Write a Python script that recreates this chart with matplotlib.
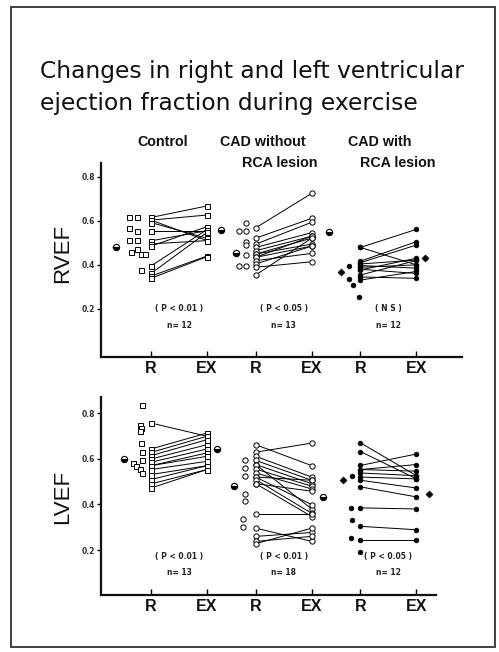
import matplotlib
matplotlib.use("Agg")
import matplotlib.pyplot as plt
from matplotlib.patches import Rectangle

# ---------------- data (ejection fraction values) ----------------
groups = ["Control", "CAD without\nRCA lesion", "CAD with\nRCA lesion"]
xlabels = ["R", "EX"]

# RVEF
rv_ctrl_cloud = [0.618, 0.615, 0.565, 0.555, 0.512, 0.512, 0.46, 0.47, 0.449, 0.448, 0.376]
rv_ctrl_rest = [0.615, 0.603, 0.603, 0.592, 0.553, 0.509, 0.495, 0.485, 0.395, 0.361, 0.349, 0.339]
rv_ctrl_ex = [0.667, 0.626, 0.51, 0.52, 0.553, 0.555, 0.51, 0.573, 0.56, 0.547, 0.44, 0.437]
rv_ctrl_mean = [0.479, 0.558]

rv_cad_cloud = [0.591, 0.553, 0.553, 0.505, 0.49, 0.444, 0.395, 0.395]
rv_cad_rest = [0.568, 0.521, 0.494, 0.479, 0.464, 0.449, 0.449, 0.434, 0.434, 0.419, 0.404, 0.389, 0.354]
rv_cad_ex = [0.724, 0.611, 0.593, 0.546, 0.53, 0.521, 0.494, 0.485, 0.53, 0.452, 0.485, 0.414, 0.521]
rv_cad_mean = [0.452, 0.55]

rv_rca_cloud = [0.395, 0.338, 0.308, 0.255]
rv_rca_rest = [0.479, 0.479, 0.417, 0.41, 0.404, 0.397, 0.389, 0.38, 0.377, 0.354, 0.345, 0.331]
rv_rca_ex = [0.561, 0.40, 0.505, 0.49, 0.422, 0.385, 0.40, 0.361, 0.43, 0.42, 0.339, 0.37]
rv_rca_mean = [0.367, 0.432]

# LVEF
lv_ctrl_cloud = [0.838, 0.75, 0.735, 0.721, 0.67, 0.63, 0.594, 0.58, 0.567, 0.557, 0.538]
lv_ctrl_rest = [0.757, 0.643, 0.628, 0.614, 0.599, 0.585, 0.57, 0.57, 0.553, 0.531, 0.509, 0.49, 0.472]
lv_ctrl_ex = [0.699, 0.713, 0.699, 0.684, 0.662, 0.643, 0.626, 0.611, 0.589, 0.57, 0.57, 0.553, 0.553]
lv_ctrl_mean = [0.599, 0.643]

lv_cad_cloud = [0.593, 0.56, 0.526, 0.447, 0.414, 0.336, 0.30]
lv_cad_rest = [0.662, 0.629, 0.611, 0.593, 0.575, 0.575, 0.555, 0.538, 0.52, 0.52, 0.509, 0.491, 0.491,
               0.36, 0.296, 0.26, 0.238, 0.228]
lv_cad_ex = [0.57, 0.669, 0.52, 0.506, 0.491, 0.38, 0.48, 0.468, 0.399, 0.506, 0.361, 0.458, 0.347,
             0.36, 0.238, 0.277, 0.26, 0.296]
lv_cad_mean = [0.48, 0.433]

lv_rca_cloud = [0.523, 0.385, 0.333, 0.253, 0.19]
lv_rca_rest = [0.67, 0.632, 0.571, 0.553, 0.553, 0.538, 0.52, 0.506, 0.477, 0.385, 0.304, 0.246]
lv_rca_ex = [0.526, 0.512, 0.621, 0.575, 0.546, 0.526, 0.512, 0.472, 0.433, 0.38, 0.289, 0.246]
lv_rca_mean = [0.506, 0.447]

rv_stats = ["( P < 0.01 )", "( P < 0.05 )", "( N S )"]
rv_n = ["n= 12", "n= 13", "n= 12"]
lv_stats = ["( P < 0.01 )", "( P < 0.01 )", "( P < 0.05 )"]
lv_n = ["n= 13", "n= 18", "n= 12"]
yticks = [0.2, 0.4, 0.6, 0.8]

# ---------------- layout (not data) ----------------
rv_cloud_off = [
    [-0.39, -0.25, -0.39, -0.25, -0.39, -0.25, -0.36, -0.25, -0.18, -0.11, -0.18],
    [-0.18, -0.30, -0.18, -0.18, -0.18, -0.18, -0.30, -0.18],
    [-0.20, -0.21, -0.14, -0.02],
]
lv_cloud_off = [
    [-0.16, -0.19, -0.18, -0.19, -0.18, -0.16, -0.16, -0.33, -0.26, -0.19, -0.16],
    [-0.20, -0.20, -0.20, -0.20, -0.20, -0.22, -0.22],
    [-0.15, -0.16, -0.15, -0.16, -0.01],
]
rv_mean_off = [(-0.62, 0.25), (-0.36, 0.30), (-0.34, 0.16)]
lv_mean_off = [(-0.49, 0.17), (-0.39, 0.21), (-0.31, 0.22)]
group_step = 1.87
styles = [dict(marker="s", mfc="white", mec="black", ms=3.6, mew=0.7),
          dict(marker="o", mfc="white", mec="black", ms=3.8, mew=0.7),
          dict(marker="o", mfc="black", mec="black", ms=3.4, mew=0.5)]

W, H = 499, 652
fig = plt.figure(figsize=(W / 100, H / 100), dpi=100)
fig.patch.set_facecolor("white")

def fx(px):
    return px / W

def fy(py):
    return 1 - py / H

# outer frame
fig.patches.append(Rectangle((fx(11), fy(647)), fx(495) - fx(11), fy(7) - fy(647),
                             transform=fig.transFigure, fill=False, lw=1.3, ec="#333333"))

# title
fig.text(fx(40), fy(78), "Changes in right and left ventricular", fontsize=16.8,
         family="DejaVu Sans", va="baseline", ha="left", color="#111111")
fig.text(fx(40), fy(110), "ejection fraction during exercise", fontsize=16.8,
         family="DejaVu Sans", va="baseline", ha="left", color="#111111")

# column headings (text lines with their left pixel x and baseline y)
head_lines = [("Control", 137, 146), ("CAD without", 220, 146), ("RCA lesion", 242, 167),
              ("CAD with", 348, 146), ("RCA lesion", 360, 167)]
for ln, x0, y0 in head_lines:
    fig.text(fx(x0), fy(y0), ln, fontsize=10.3, family="Liberation Sans",
             weight="bold", va="baseline", ha="left", color="#111111")

panels = [
    dict(rect=(101, 163, 462, 357), ylim=(-0.018, 0.862), xright=5.554, label="RVEF", lab_y=253,
         data=[(rv_ctrl_cloud, rv_ctrl_rest, rv_ctrl_ex, rv_ctrl_mean),
               (rv_cad_cloud, rv_cad_rest, rv_cad_ex, rv_cad_mean),
               (rv_rca_cloud, rv_rca_rest, rv_rca_ex, rv_rca_mean)],
         cloud_off=rv_cloud_off, mean_off=rv_mean_off, stats=rv_stats, n=rv_n,
         stat_y=(0.20, 0.127)),
    dict(rect=(101, 397, 436, 595), ylim=(0.003, 0.871), xright=5.089, label="LVEF", lab_y=497,
         data=[(lv_ctrl_cloud, lv_ctrl_rest, lv_ctrl_ex, lv_ctrl_mean),
               (lv_cad_cloud, lv_cad_rest, lv_cad_ex, lv_cad_mean),
               (lv_rca_cloud, lv_rca_rest, lv_rca_ex, lv_rca_mean)],
         cloud_off=lv_cloud_off, mean_off=lv_mean_off, stats=lv_stats, n=lv_n,
         stat_y=(0.17, 0.10)),
]

for p in panels:
    l, t, r, b = p["rect"]
    ax = fig.add_axes([fx(l), fy(b), fx(r) - fx(l), fy(t) - fy(b)])
    ax.set_facecolor("none")
    ax.set_ylim(*p["ylim"])
    ax.set_xlim(-0.893, p["xright"])
    for s in ["top", "right"]:
        ax.spines[s].set_visible(False)
    for s in ["left", "bottom"]:
        ax.spines[s].set_linewidth(1.6)
        ax.spines[s].set_color("#111111")

    xt = []
    for g, (cloud, rest, ex, mean) in enumerate(p["data"]):
        xr = g * group_step
        xe = xr + 1.0
        xt += [xr, xe]
        st = styles[g]
        for a, bb in zip(rest, ex):
            ax.plot([xr, xe], [a, bb], color="black", lw=0.7, zorder=2)
        ax.plot([xr] * len(rest), rest, ls="none", zorder=3, **st)
        ax.plot([xe] * len(ex), ex, ls="none", zorder=3, **st)
        ax.plot([xr + o for o in p["cloud_off"][g]], cloud, ls="none", zorder=3, **st)
        mo = p["mean_off"][g]
        if g < 2:
            mst = dict(marker="o", fillstyle="bottom", mfc="black", mfcalt="white",
                       mec="black", ms=4.5, mew=0.8)
        else:
            mst = dict(marker="D", mfc="black", mec="black", ms=3.5, mew=0.5)
        ax.plot([xr + mo[0], xe + mo[1]], mean, ls="none", zorder=3, **mst)
        cx = (xr + xe) / 2
        ax.text(cx, p["stat_y"][0], p["stats"][g], ha="center", va="center", fontsize=5.5,
                weight="bold", color="#222222")
        ax.text(cx, p["stat_y"][1], p["n"][g], ha="center", va="center", fontsize=5.5,
                weight="bold", color="#222222")

    ax.set_xticks(xt)
    ax.set_xticklabels(xlabels * 3, fontsize=11.5, family="Liberation Sans", weight="bold",
                       color="#111111")
    ax.tick_params(axis="x", direction="in", length=4, width=1.0, pad=3)
    ax.set_yticks(yticks)
    ax.set_yticklabels([f"{v:.1f}" for v in yticks], fontsize=5.5, weight="bold", color="#333333")
    ax.tick_params(axis="y", direction="out", length=3, width=1.0, pad=1)

    fig.text(fx(63), fy(p["lab_y"]), p["label"], rotation=90, fontsize=16,
             family="Liberation Sans", ha="center", va="center", color="#111111")

fig.savefig("out.png", dpi=100, facecolor="white")
